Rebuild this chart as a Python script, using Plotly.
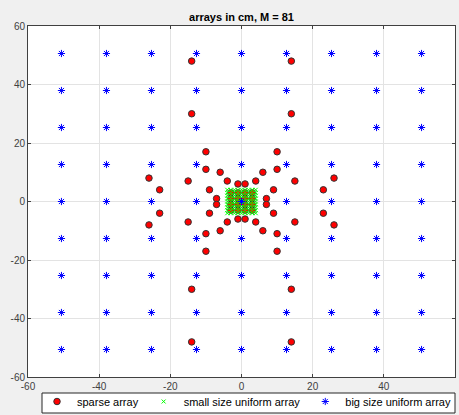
import numpy as np
import plotly.graph_objects as go

title_text = "arrays in cm, M = 81"

# Sparse array (cm)
sparse_x = [-14, 14, -14, 14, -14, 14, -14, 14,
            -10, 10, -10, 10,
            -10, 10, -10, 10,
            -6, 6, -6, 6,
            -15, 15, -15, 15,
            -4, 4, -4, 4,
            -1, 1, -1, 1,
            -9, 9, -9, 9,
            -7, 7, -7, 7,
            -26, 26, -26, 26,
            -23, 23, -23, 23,
            -3, -1, 1, 3, -3, -1, 1, 3, -3, -1, 1, 3, -3, -1, 1, 3]
sparse_y = [48, 48, 30, 30, -30, -30, -48, -48,
            17, 17, -17, -17,
            11, 11, -11, -11,
            10, 10, -10, -10,
            7, 7, -7, -7,
            7, 7, -7, -7,
            6, 6, -6, -6,
            4, 4, -4, -4,
            1, 1, -1, -1,
            8, 8, -8, -8,
            4, 4, -4, -4,
            3, 3, 3, 3, 1, 1, 1, 1, -1, -1, -1, -1, -3, -3, -3, -3]

# Uniform array element positions along each axis (cm)
small_pos = [-4.0, -3.0, -2.0, -1.0, 0.0, 1.0, 2.0, 3.0, 4.0]
big_pos = [-50.6, -37.95, -25.3, -12.65, 0.0, 12.65, 25.3, 37.95, 50.6]

tick_vals = [-60, -40, -20, 0, 20, 40, 60]
tick_text = ["-60", "-40", "-20", "0", "20", "40", "60"]

sx, sy = np.meshgrid(small_pos, small_pos)
bx, by = np.meshgrid(big_pos, big_pos)

fig = go.Figure()
fig.add_trace(go.Scatter(
    x=sparse_x, y=sparse_y, mode="markers", name="sparse array",
    marker=dict(symbol="circle", size=6.5, color="#ff0000",
                line=dict(color="#333333", width=1))))
fig.add_trace(go.Scatter(
    x=sx.ravel(), y=sy.ravel(), mode="markers", name="small size uniform array",
    marker=dict(symbol="x-thin-open", size=4, color="#00ff00",
                line=dict(color="#00ff00", width=1))))
fig.add_trace(go.Scatter(
    x=bx.ravel(), y=by.ravel(), mode="markers", name="big size uniform array",
    marker=dict(symbol="asterisk-open", size=6, color="#0000ff",
                line=dict(color="#0000ff", width=1))))

axis_common = dict(
    range=[-60, 60], tickvals=tick_vals, ticktext=tick_text,
    ticks="inside", ticklen=3,
    tickcolor="#404040", showline=True, linecolor="#404040", linewidth=1,
    mirror="ticks", showgrid=True, gridcolor="#e3e3e3", gridwidth=1,
    zeroline=False, automargin=False,
    tickfont=dict(family="Liberation Sans, Arial", size=10, color="#404040"),
)

# legend frame (paper coordinates)
fig.add_shape(type="rect", xref="paper", yref="paper",
              x0=(42 - 28) / 427, x1=(455 - 28) / 427,
              y0=(377 - 413) / 351, y1=(377 - 393) / 351,
              fillcolor="#ffffff", line=dict(color="#262626", width=1), layer="above")

fig.update_layout(
    width=459, height=415,
    paper_bgcolor="#f0f0f0", plot_bgcolor="#ffffff",
    margin=dict(l=28, r=4, t=26, b=38, autoexpand=False),
    title=dict(text="<b>" + title_text + "</b>", x=0.5, xref="paper",
               y=1 - 17 / 415, yanchor="middle",
               font=dict(family="Liberation Sans, Arial", size=11, color="#000000")),
    xaxis=axis_common,
    yaxis=axis_common,
    showlegend=True,
    legend=dict(orientation="h", x=(37 - 28) / 427, xanchor="left",
                y=(377 - 387) / 351, yanchor="top",
                bgcolor="rgba(0,0,0,0)", borderwidth=0,
                font=dict(family="Liberation Sans, Arial", size=11, color="#000000"),
                tracegroupgap=0),
)

fig.write_html("out.html", config={"displayModeBar": False},
               post_script="document.body.style.margin='0';document.body.style.overflow='hidden';")
